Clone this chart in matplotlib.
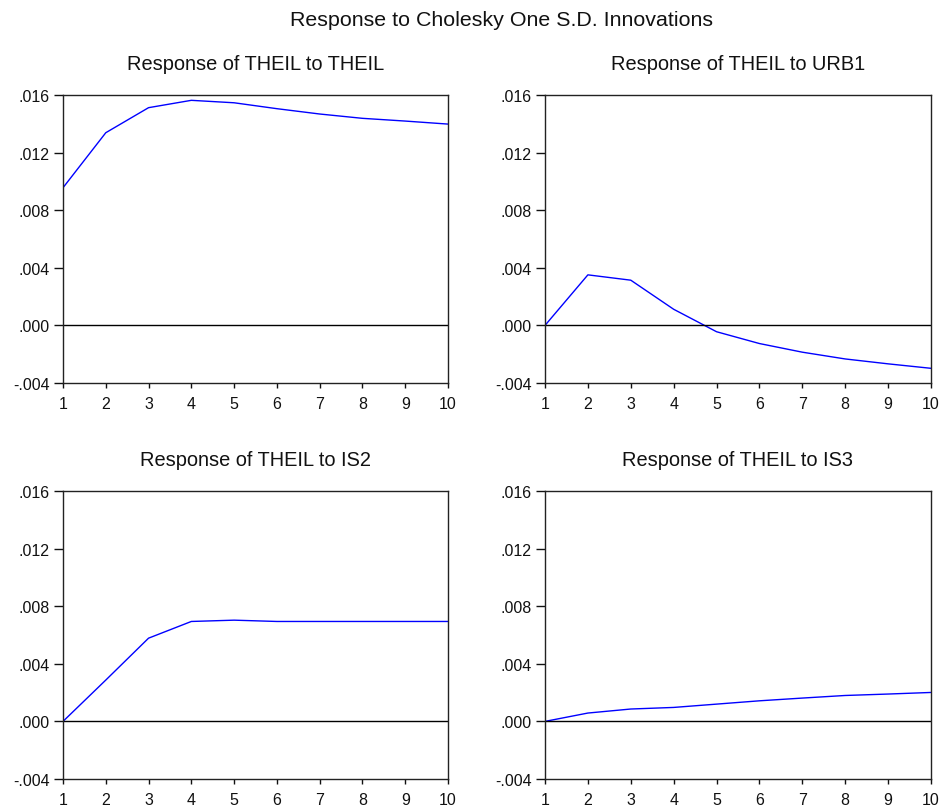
import matplotlib
matplotlib.use("Agg")
import matplotlib.pyplot as plt

periods = [1, 2, 3, 4, 5, 6, 7, 8, 9, 10]
resp_theil = [0.00956, 0.01338, 0.01512, 0.01563, 0.01546, 0.01505, 0.01468, 0.01438, 0.01419, 0.01398]
resp_urb1 = [0.0, 0.00351, 0.00314, 0.00112, -0.00044, -0.00126, -0.00186, -0.00233, -0.00267, -0.00298]
resp_is2 = [0.0, 0.00287, 0.00578, 0.00694, 0.00703, 0.00694, 0.00694, 0.00694, 0.00694, 0.00694]
resp_is3 = [0.0, 0.00058, 0.00086, 0.00097, 0.00120, 0.00143, 0.00162, 0.00180, 0.00190, 0.00201]
titles = ["Response of THEIL to THEIL", "Response of THEIL to URB1",
          "Response of THEIL to IS2", "Response of THEIL to IS3"]
yticks = [-0.004, 0.000, 0.004, 0.008, 0.012, 0.016]
ytick_labels = ["-.004", ".000", ".004", ".008", ".012", ".016"]

plt.rcParams['font.family'] = ['Liberation Sans', 'DejaVu Sans']

W, H = 939, 812
fig = plt.figure(figsize=(W / 100, H / 100), dpi=100)
fig.text(502 / W, 1 - 20 / H, "Response to Cholesky One S.D. Innovations",
         ha='center', va='center', fontsize=15.4, color='#111111')

boxes = [(63, 96, 448, 384), (545, 96, 931, 384),
         (63, 492, 448, 780), (545, 492, 931, 780)]
series = [resp_theil, resp_urb1, resp_is2, resp_is3]

for (l, t, r, b), s, ttl in zip(boxes, series, titles):
    ax = fig.add_axes([l / W, 1 - b / H, (r - l) / W, (b - t) / H])
    ax.plot(periods, s, color='#0000ff', lw=1.0)
    ax.axhline(0, color='black', lw=1.0)
    ax.set_xlim(1, 10)
    ax.set_ylim(-0.004, 0.016)
    ax.set_xticks(periods)
    ax.set_xticklabels([str(p) for p in periods], fontsize=11.5)
    ax.set_yticks(yticks)
    ax.set_yticklabels(ytick_labels, fontsize=11.5)
    ax.tick_params(axis='y', direction='out', length=6.3, width=1, pad=3.2, colors='#111111')
    ax.tick_params(axis='x', direction='out', length=3.6, width=1, pad=5.5, colors='#111111')
    for sp in ax.spines.values():
        sp.set_linewidth(1.0)
        sp.set_color('#222222')
    ax.set_title(ttl, fontsize=14.4, pad=19, color='#111111')

fig.savefig("out.png", dpi=100)
